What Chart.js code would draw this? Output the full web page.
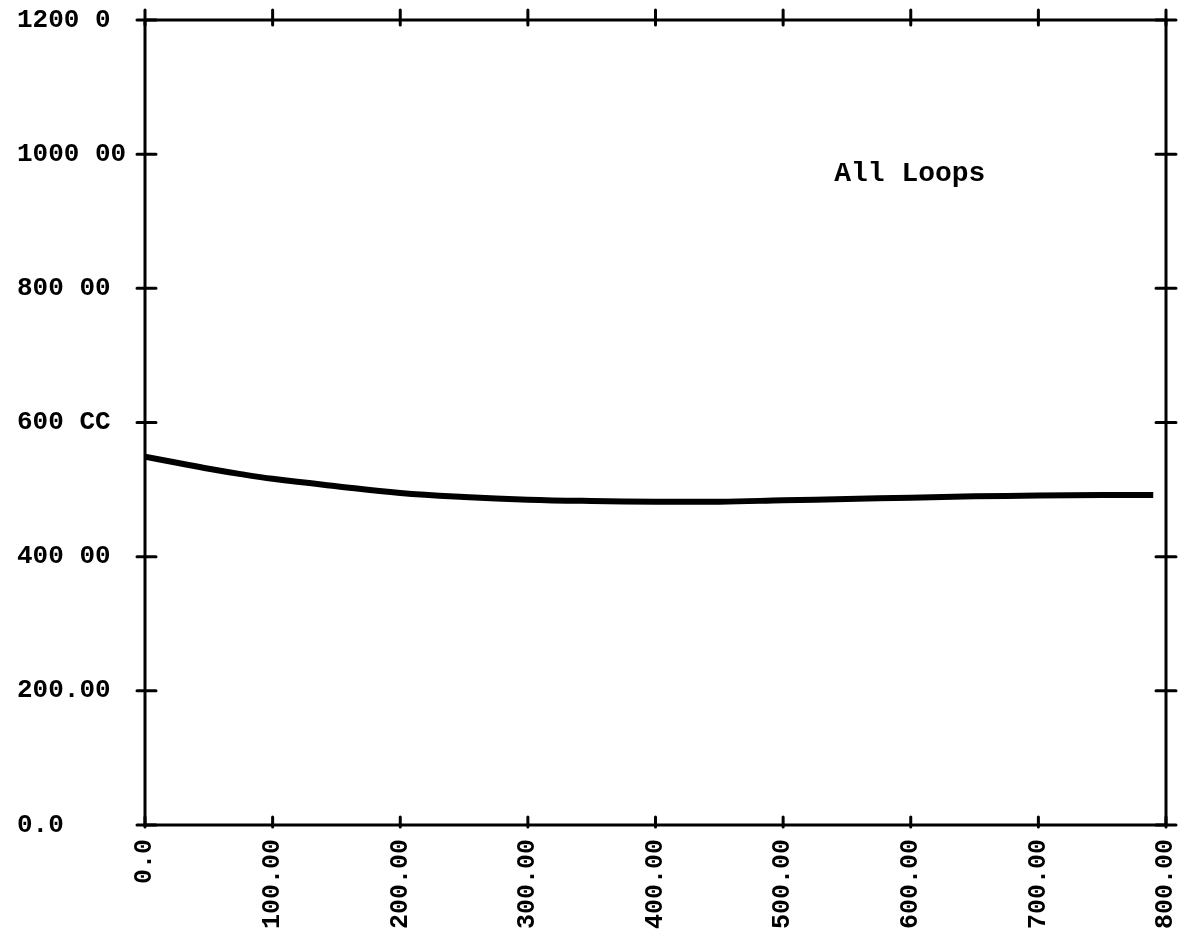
<!DOCTYPE html>
<html>
<head>
<meta charset="utf-8">
<script src="https://cdn.jsdelivr.net/npm/chart.js@4/dist/chart.umd.min.js"></script>
<style>
  html, body { margin: 0; padding: 0; background: #fff; }
  #wrap { width: 1182px; height: 943px; }
</style>
</head>
<body>
<div id="wrap"><canvas id="loopChart" width="1182" height="943"></canvas></div>
<script>
// curve samples (x, y)
const xValues = [0, 25, 50, 75, 100, 150, 200, 250, 300, 350, 400, 450, 500, 550, 600, 650, 700, 750, 790];
const yValues = [549, 540, 531, 523, 516, 505, 495, 489, 485, 483, 482, 482, 484, 486, 488, 490, 491, 492, 492];

// axis labels as printed on the plot
const xTickLabels = ["0.0", "100.00", "200.00", "300.00", "400.00", "500.00", "600.00", "700.00", "800.00"];
const yTickLabels = ["0.0", "200.00", "400 00", "600 CC", "800 00", "1000 00", "1200 0"];
const curveLabel = "All Loops";

const ink = '#000';
const monoFont = "'Liberation Mono', 'DejaVu Sans Mono', monospace";

// frame + cross ticks on all four sides
const framePlugin = {
    id: 'frame',
    afterDraw(chart) {
        let ctx = chart.ctx;
        let a = chart.chartArea;
        let xs = chart.scales.x;
        let ys = chart.scales.y;
        ctx.save();
        ctx.strokeStyle = ink;
        ctx.lineWidth = 3;
        ctx.lineCap = 'round';
        ctx.beginPath();
        ctx.moveTo(a.left, a.top);
        ctx.lineTo(a.right, a.top);
        ctx.lineTo(a.right, a.bottom);
        ctx.moveTo(a.left, a.top);
        ctx.lineTo(a.left, a.bottom);
        ctx.lineTo(a.right, a.bottom);
        ctx.stroke();

        ctx.beginPath();
        xs.ticks.forEach(t => {
            let px = xs.getPixelForValue(t.value);
            ctx.moveTo(px, a.bottom - 8);
            ctx.lineTo(px, a.bottom + 2);
            ctx.moveTo(px, a.top - 10);
            ctx.lineTo(px, a.top + 5);
        });
        ys.ticks.forEach(t => {
            let py = ys.getPixelForValue(t.value);
            ctx.moveTo(a.left - 8, py);
            ctx.lineTo(a.left + 11, py);
            ctx.moveTo(a.right - 10, py);
            ctx.lineTo(a.right + 10, py);
        });
        ctx.stroke();

        // curve caption
        ctx.fillStyle = ink;
        ctx.font = "bold 28px " + monoFont;
        ctx.textAlign = 'left';
        ctx.textBaseline = 'middle';
        ctx.fillText(curveLabel, xs.getPixelForValue(540), ys.getPixelForValue(970));
        ctx.restore();
    }
};

new Chart(document.getElementById('loopChart').getContext('2d'), {
    type: 'line',
    data: {
        datasets: [{
            label: curveLabel,
            data: xValues.map((x, i) => ({ x: x, y: yValues[i] })),
            borderColor: ink,
            borderWidth: 6,
            pointRadius: 0,
            tension: 0.4,
            fill: false
        }]
    },
    options: {
        responsive: false,
        animation: false,
        layout: { padding: { left: 17, right: 16, top: 20, bottom: 0 } },
        plugins: {
            legend: { display: false },
            tooltip: { enabled: false }
        },
        scales: {
            x: {
                type: 'linear',
                min: 0,
                max: 800,
                afterFit: s => { s.height = 118; s.paddingLeft = 0; s.paddingRight = 0; },
                grid: { display: false, drawTicks: false },
                border: { display: false },
                ticks: {
                    stepSize: 100,
                    minRotation: 90,
                    maxRotation: 90,
                    padding: 14,
                    color: ink,
                    font: { family: monoFont, size: 25, weight: 'bold' },
                    callback: (v, i) => xTickLabels[i]
                }
            },
            y: {
                min: 0,
                max: 1200,
                afterFit: s => { s.width = 128; s.paddingTop = 0; s.paddingBottom = 0; },
                grid: { display: false, drawTicks: false },
                border: { display: false },
                ticks: {
                    stepSize: 200,
                    crossAlign: 'far',
                    color: ink,
                    font: { family: monoFont, size: 26, weight: 'bold' },
                    callback: (v, i) => yTickLabels[i]
                }
            }
        }
    },
    plugins: [framePlugin]
});
</script>
</body>
</html>
